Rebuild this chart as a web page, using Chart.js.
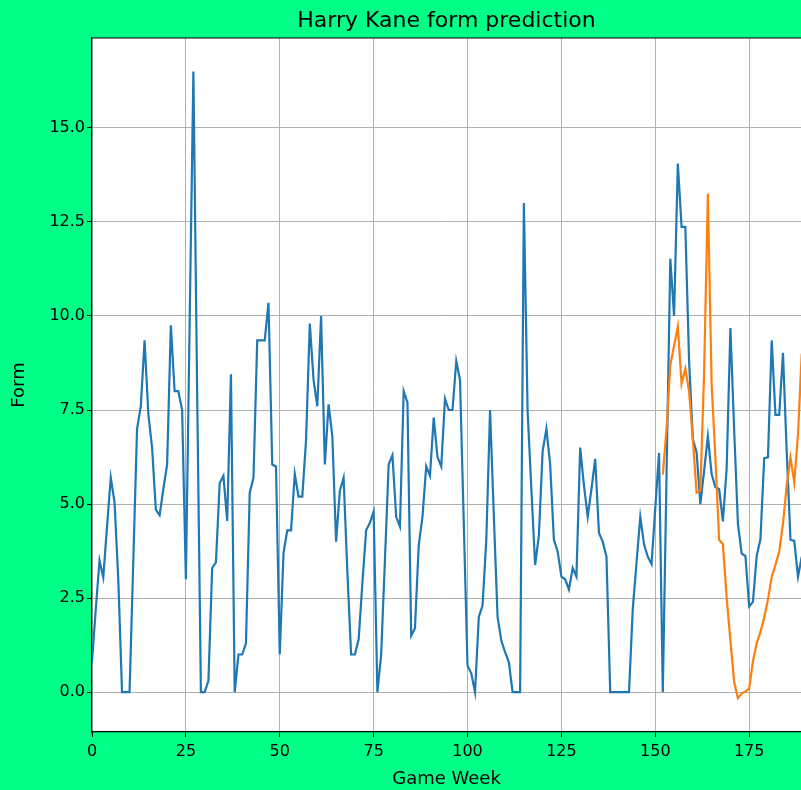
<!DOCTYPE html>
<html>
<head>
<meta charset="utf-8">
<title>Harry Kane form prediction</title>
<script src="https://cdn.jsdelivr.net/npm/chart.js@4.4.1/dist/chart.umd.min.js"></script>
<style>
  html, body { margin: 0; padding: 0; background: #00ff87; }
  #myChart { display: block; }
</style>
</head>
<body>
<canvas id="myChart" width="801" height="790"></canvas>
<script>
// actual form per game week (index = game week)
const form = [
  0.8, 2.2, 3.5, 3.05, 4.4, 5.7, 5.05, 3.0, 0, 0,
  0, 3.5, 7.0, 7.6, 9.35, 7.4, 6.5, 4.85, 4.7, 5.4,
  6.05, 9.75, 8.0, 8.0, 7.5, 3.0, 9.8, 16.5, 8.0, 0,
  0, 0.3, 3.3, 3.45, 5.55, 5.75, 4.55, 8.45, 0, 1.0,
  1.0, 1.3, 5.3, 5.7, 9.35, 9.35, 9.35, 10.35, 6.05, 6.0,
  1.0, 3.7, 4.3, 4.3, 5.8, 5.2, 5.2, 6.7, 9.8, 8.3,
  7.6, 10.0, 6.05, 7.65, 6.8, 4.0, 5.35, 5.7, 3.2, 1.0,
  1.0, 1.4, 2.9, 4.3, 4.5, 4.8, 0, 1.0, 3.5, 6.05,
  6.3, 4.66, 4.4, 8.0, 7.7, 1.5, 1.7, 3.9, 4.66, 6.0,
  5.75, 7.3, 6.25, 6.0, 7.8, 7.5, 7.5, 8.8, 8.3, 4.5,
  0.7, 0.5, 0, 2.0, 2.3, 4.05, 7.5, 4.7, 2.0, 1.37,
  1.06, 0.8, 0, 0, 0, 13.0, 7.46, 5.4, 3.38, 4.17,
  6.4, 7.0, 6.06, 4.05, 3.74, 3.07, 3.0, 2.73, 3.3, 3.07,
  6.5, 5.5, 4.66, 5.4, 6.2, 4.23, 4.0, 3.6, 0, 0,
  0, 0, 0, 0, 2.2, 3.44, 4.66, 3.93, 3.6, 3.4,
  4.9, 6.36, 0, 5.8, 11.52, 10.0, 14.05, 12.37, 12.37, 8.8,
  6.73, 6.37, 5.0, 5.88, 6.8, 5.8, 5.45, 5.4, 4.54, 5.94,
  9.68, 6.98, 4.48, 3.68, 3.62, 2.28, 2.4, 3.62, 4.07, 6.22,
  6.24, 9.35, 7.37, 7.37, 9.02, 6.37, 4.05, 4.02, 3.07, 3.6
];

// predicted form, starts at game week 152
const predStart = 152;
const prediction = [
  5.78, 7.0, 8.7, 9.2, 9.72, 8.2, 8.6, 8.0, 6.73, 5.3,
  5.35, 8.5, 13.25, 8.2, 6.24, 4.05, 3.93, 2.52, 1.37, 0.27,
  -0.16, -0.04, 0.02, 0.09, 0.82, 1.3, 1.6, 1.98, 2.46, 3.07,
  3.38, 3.74, 4.47, 5.5, 6.24, 5.57, 6.85, 9.0
];

const xTicks = [0, 25, 50, 75, 100, 125, 150, 175];
const yTicks = [0, 2.5, 5, 7.5, 10, 12.5, 15];

const weeks = form.map((v, i) => i);
const formPoints = weeks.map((w) => ({ x: w, y: form[w] }));
const predPoints = prediction.map((v, i) => ({ x: predStart + i, y: v }));

const fontFamily = "'DejaVu Sans', sans-serif";

// white plot area + top spine like matplotlib
const axesBox = {
  id: "axesBox",
  beforeDraw(chart) {
    const { ctx, chartArea } = chart;
    ctx.save();
    ctx.fillStyle = "#ffffff";
    ctx.fillRect(chartArea.left, chartArea.top, chartArea.right - chartArea.left, chartArea.bottom - chartArea.top);
    ctx.restore();
  },
  afterDraw(chart) {
    const { ctx, chartArea } = chart;
    ctx.save();
    ctx.strokeStyle = "#000000";
    ctx.lineWidth = 1.2;
    ctx.beginPath();
    ctx.moveTo(chartArea.left, chartArea.top);
    ctx.lineTo(chartArea.right, chartArea.top);
    ctx.stroke();
    ctx.restore();
  },
};

const ctx = document.getElementById("myChart");
const chart = new Chart(ctx, {
  type: "line",
  data: {
    datasets: [
      {
        label: "Form",
        data: formPoints,
        borderColor: "#1f77b4",
        borderWidth: 2.2,
        pointRadius: 0,
        tension: 0,
        order: 1,
      },
      {
        label: "Prediction",
        data: predPoints,
        borderColor: "#ff7f0e",
        borderWidth: 2.2,
        pointRadius: 0,
        tension: 0,
        order: 0,
      },
    ],
  },
  options: {
    responsive: false,
    animation: false,
    devicePixelRatio: 1,
    layout: { padding: { left: 0, right: 0, top: 0, bottom: 0 } },
    plugins: {
      legend: { display: false },
      tooltip: { enabled: false },
      title: {
        display: true,
        text: "Harry Kane form prediction",
        fullSize: false,
        color: "#000",
        font: { family: fontFamily, size: 22, weight: "normal", lineHeight: 1.2 },
        padding: { top: 8, bottom: 3.6 },
      },
    },
    scales: {
      x: {
        type: "linear",
        min: 0,
        max: 188.8,
        afterFit: (s) => { s.height = 58; },
        afterBuildTicks: (s) => { s.ticks = xTicks.map((v) => ({ value: v })); },
        ticks: { color: "#000", font: { family: fontFamily, size: 16 }, padding: 5, maxRotation: 0 },
        grid: { color: "#b0b0b0", lineWidth: 1, tickColor: "#000", tickLength: 5 },
        border: { color: "#000", width: 1.2 },
        title: {
          display: true,
          text: "Game Week",
          color: "#000",
          font: { family: fontFamily, size: 18, lineHeight: 1.2 },
          padding: { top: 0, bottom: 0.2 },
        },
      },
      y: {
        type: "linear",
        min: -1.06,
        max: 17.39,
        afterFit: (s) => { s.width = 92; },
        afterBuildTicks: (s) => { s.ticks = yTicks.map((v) => ({ value: v })); },
        ticks: {
          color: "#000",
          font: { family: fontFamily, size: 16 },
          padding: 2,
          callback: (v) => Number(v).toFixed(1),
        },
        grid: { color: "#b0b0b0", lineWidth: 1, tickColor: "#000", tickLength: 5 },
        border: { color: "#000", width: 1.2 },
        title: {
          display: true,
          text: "Form",
          color: "#000",
          font: { family: fontFamily, size: 18, lineHeight: 1.2 },
          padding: { top: 8.2, bottom: 0 },
        },
      },
    },
  },
  plugins: [axesBox],
});
</script>
</body>
</html>
